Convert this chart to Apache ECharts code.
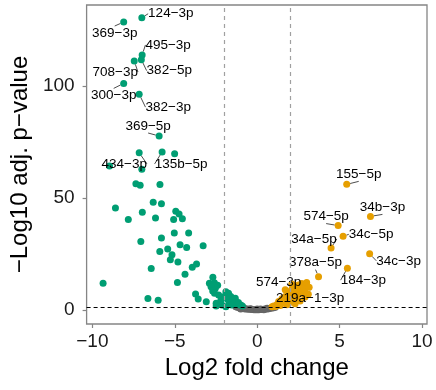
<!DOCTYPE html>
<html>
<head>
<meta charset="utf-8">
<script src="https://cdn.jsdelivr.net/npm/echarts@6/dist/echarts.min.js"></script>
<style>
  html, body { margin: 0; padding: 0; background: #fff; }
  #chart { width: 436px; height: 390px; }
</style>
</head>
<body>
<div id="chart"></div>
<script>
// Labelled miRNAs, down-regulated (green)
const downNames = ['124−3p', '369−3p', '495−3p', '382−5p', '708−3p', '300−3p', '382−3p', '369−5p', '434−3p', '135b−5p']
const downNamedX = [-7.0, -8.1, -6.98, -7.03, -7.46, -8.1, -7.16, -5.95, -7.16, -5.77]
const downNamedY = [130.5, 128.6, 113.9, 111.8, 111.2, 101.2, 96.4, 77.7, 70.2, 70.6]

// Unlabelled down-regulated points
const downX = [
  -5.01, -8.96, -7.0, -7.36, -7.1, -5.9, -8.6, -6.31, -5.81, -6.97, -7.82, -6.17, -4.94, -4.74,
  -5.07, -4.54, -5.03, -4.16, -5.81, -7.06, -4.68, -4.28, -3.28, -5.43, -5.91, -5.17, -5.27,
  -4.81, -6.43, -3.68, -3.94, -4.38, -9.35, -4.84, -3.74, -3.58, -6.63, -6.01,
  -2.69, -2.9, -2.6, -2.8, -2.54, -2.7, -3.09, -2.49, -2.49, -2.0, -1.9, -1.74, -1.6, -1.8,
  -1.5, -1.33, -1.7, -1.4, -1.14, -2.2, -2.34, -2.14, -1.0, -1.9, -1.2, -0.9, -1.55, -2.4, -2.59
]
const downY = [
  69.8, 64.3, 62.8, 56.4, 55.7, 56, 45.6, 48.1, 47.5, 43.6, 40.4, 41.1, 44.1, 42.9,
  40.4, 40.7, 34.4, 34.4, 32.1, 30.6, 29.1, 27.9, 28.7, 27.2, 26.1, 24.7, 22.4,
  21.4, 18.5, 20.5, 19.1, 16, 12, 12.3, 7.2, 4.9, 5.1, 4.3,
  14.6, 12, 12.2, 10.4, 9.7, 8.5, 3.7, 3.0, 1.8, 6, 8.2, 7.5, 6, 4.8,
  4.5, 5.2, 3.3, 3, 3.3, 4.5, 6.7, 2.2, 2.2, 1.5, 2.4, 1.8, 2.2, 11.0, 7.5
]

// Labelled miRNAs, up-regulated (orange)
const upNames = ['155−5p', '34b−3p', '574−5p', '34c−5p', '34a−5p', '34c−3p', '184−3p', '378a−5p', '574−3p', '219a−1−3p']
const upNamedX = [5.43, 6.87, 4.91, 5.21, 4.48, 6.82, 5.47, 3.72, 3.0, 3.15]
const upNamedY = [56.1, 41.8, 37.7, 32.9, 27.7, 25.1, 18.7, 14.9, 12.3, 10.2]

// Unlabelled up-regulated points
const upX = [
  2.9, 2.7, 2.5, 2.3, 2.6, 2.8, 2.4, 2.1, 2.9, 2.2, 1.9, 2.6, 2.0, 1.7, 2.4, 1.5, 1.8,
  2.2, 1.3, 1.6, 2.0, 1.2, 1.4, 1.8, 1.1, 2.6, 2.9, 3.1, 2.3, 1.0, 0.9, 2.1, 1.7
]
const upY = [
  11.5, 11.8, 11.2, 10.5, 10.0, 9.5, 9.0, 9.2, 8.3, 7.8, 8.0, 7.5, 6.5, 6.0, 6.2, 5.0, 4.5,
  4.8, 3.8, 3.3, 3.5, 2.5, 2.0, 2.4, 1.6, 4.0, 5.8, 7.0, 2.8, 1.8, 1.5, 11.6, 9.0
]

// Not significant (grey)
const nsX = [
  -1.3, -1.2, -1.1, -1.0, -0.9, -0.8, -0.7, -0.6, -0.5, -0.4, -0.3, -0.2, -0.1, 0, 0.1, 0.2,
  0.3, 0.4, 0.5, 0.6, 0.7, 0.8, 0.9, 1.0, 1.1, -0.8, -0.4, 0.2, 0.6, -1.0, 0.0, 0.4
]
const nsY = [
  1.4, 1.2, 1.0, 0.9, 0.7, 0.6, 0.5, 0.4, 0.35, 0.3, 0.2, 0.15, 0.1, 0.1, 0.12, 0.2,
  0.25, 0.3, 0.4, 0.5, 0.6, 0.75, 0.9, 1.05, 1.2, 0.9, 0.6, 0.5, 0.8, 0.4, 0.4, 0.1
]

const xTicks = [-10, -5, 0, 5, 10]
const yTicks = [0, 50, 100]
const fcCutoff = 2
const pCutoff = 1.3

// Label offsets (px) from point centre to label centre, mimicking ggrepel placement
const labelNudge = {
  '124−3p': [29, -4], '369−3p': [-9, 11], '495−3p': [26, -10], '382−5p': [28, 11],
  '708−3p': [-19, 11], '300−3p': [-10, 12], '382−3p': [29, 13], '369−5p': [-11, -10],
  '434−3p': [-15, 11], '135b−5p': [19, 12], '155−5p': [12, -10], '34b−3p': [12, -9],
  '574−5p': [-12, -9], '34c−5p': [28, -2], '34a−5p': [-17, -9], '34c−3p': [29, 7],
  '184−3p': [16, 12], '378a−5p': [-3, -14], '574−3p': [-28, 0], '219a−1−3p': [1, 11],
}

const FONT = 'Liberation Sans, Arial, Helvetica, sans-serif'
const GREEN = '#009E73'
const ORANGE = '#E69F00'
const GREY = '#666666'
const AXIS_GREY = '#858585'

const minus = (v) => (v < 0 ? '\u2212' + Math.abs(v) : String(v))
const zip = (xs, ys) => xs.map((x, i) => [x, ys[i]])
const named = (names, xs, ys) =>
  names.map((n, i) => ({ name: n, value: [xs[i], ys[i]], label: { show: true } }))

const pointSeries = (data, color) => ({
  type: 'scatter',
  data,
  symbolSize: 7,
  itemStyle: { color, opacity: 1 },
  label: {
    show: false,
    position: 'inside',
    formatter: '{b}',
    color: '#000',
    fontSize: 13.5,
    fontFamily: FONT,
  },
  labelLine: { show: true, lineStyle: { color: '#000', width: 0.7 } },
  labelLayout: (p) => {
    const d = labelNudge[p.text] || [0, 0]
    return { dx: d[0], dy: d[1] }
  },
  emphasis: { disabled: true },
})

const axisCommon = {
  type: 'value',
  axisLine: { show: false, onZero: false },
  splitLine: { show: false },
  axisTick: { show: true, length: 4, lineStyle: { color: AXIS_GREY, width: 1.2 } },
  axisLabel: { color: '#1a1a1a', fontSize: 19, fontFamily: FONT, formatter: minus },
  nameLocation: 'middle',
  nameTextStyle: { color: '#000', fontSize: 24, fontFamily: FONT },
}

const chart = echarts.init(document.getElementById('chart'), null, { renderer: 'canvas' })
chart.setOption({
  animation: false,
  backgroundColor: '#fff',
  grid: {
    left: 83, right: 9, top: 5, bottom: 66,
    show: true, borderColor: AXIS_GREY, borderWidth: 1.3,
  },
  xAxis: {
    ...axisCommon,
    min: -10.35, max: 10.3,
    axisTick: { ...axisCommon.axisTick, customValues: xTicks },
    axisLabel: { ...axisCommon.axisLabel, customValues: xTicks, margin: 8 },
    name: 'Log2 fold change',
    nameGap: 31,
  },
  yAxis: {
    ...axisCommon,
    min: -6.25, max: 136.2,
    axisTick: { ...axisCommon.axisTick, customValues: yTicks },
    axisLabel: { ...axisCommon.axisLabel, customValues: yTicks, margin: 12 },
    name: '\u2212Log10 adj. p\u2212value',
    nameGap: 47,
  },
  series: [
    pointSeries(zip(nsX, nsY), GREY),
    pointSeries(zip(downX, downY).concat(named(downNames, downNamedX, downNamedY)), GREEN),
    pointSeries(zip(upX, upY).concat(named(upNames, upNamedX, upNamedY)), ORANGE),
    {
      // threshold lines on top of the points
      type: 'scatter',
      data: [],
      z: 5,
      markLine: {
        silent: true,
        symbol: 'none',
        label: { show: false },
        data: [
          { xAxis: -fcCutoff, lineStyle: { color: '#a0a0a0', type: [4, 4], width: 1.2 } },
          { xAxis: fcCutoff, lineStyle: { color: '#a0a0a0', type: [4, 4], width: 1.2 } },
          { yAxis: pCutoff, lineStyle: { color: '#000', type: [4, 3], width: 1 } },
        ],
      },
    },
  ],
})
</script>
</body>
</html>
